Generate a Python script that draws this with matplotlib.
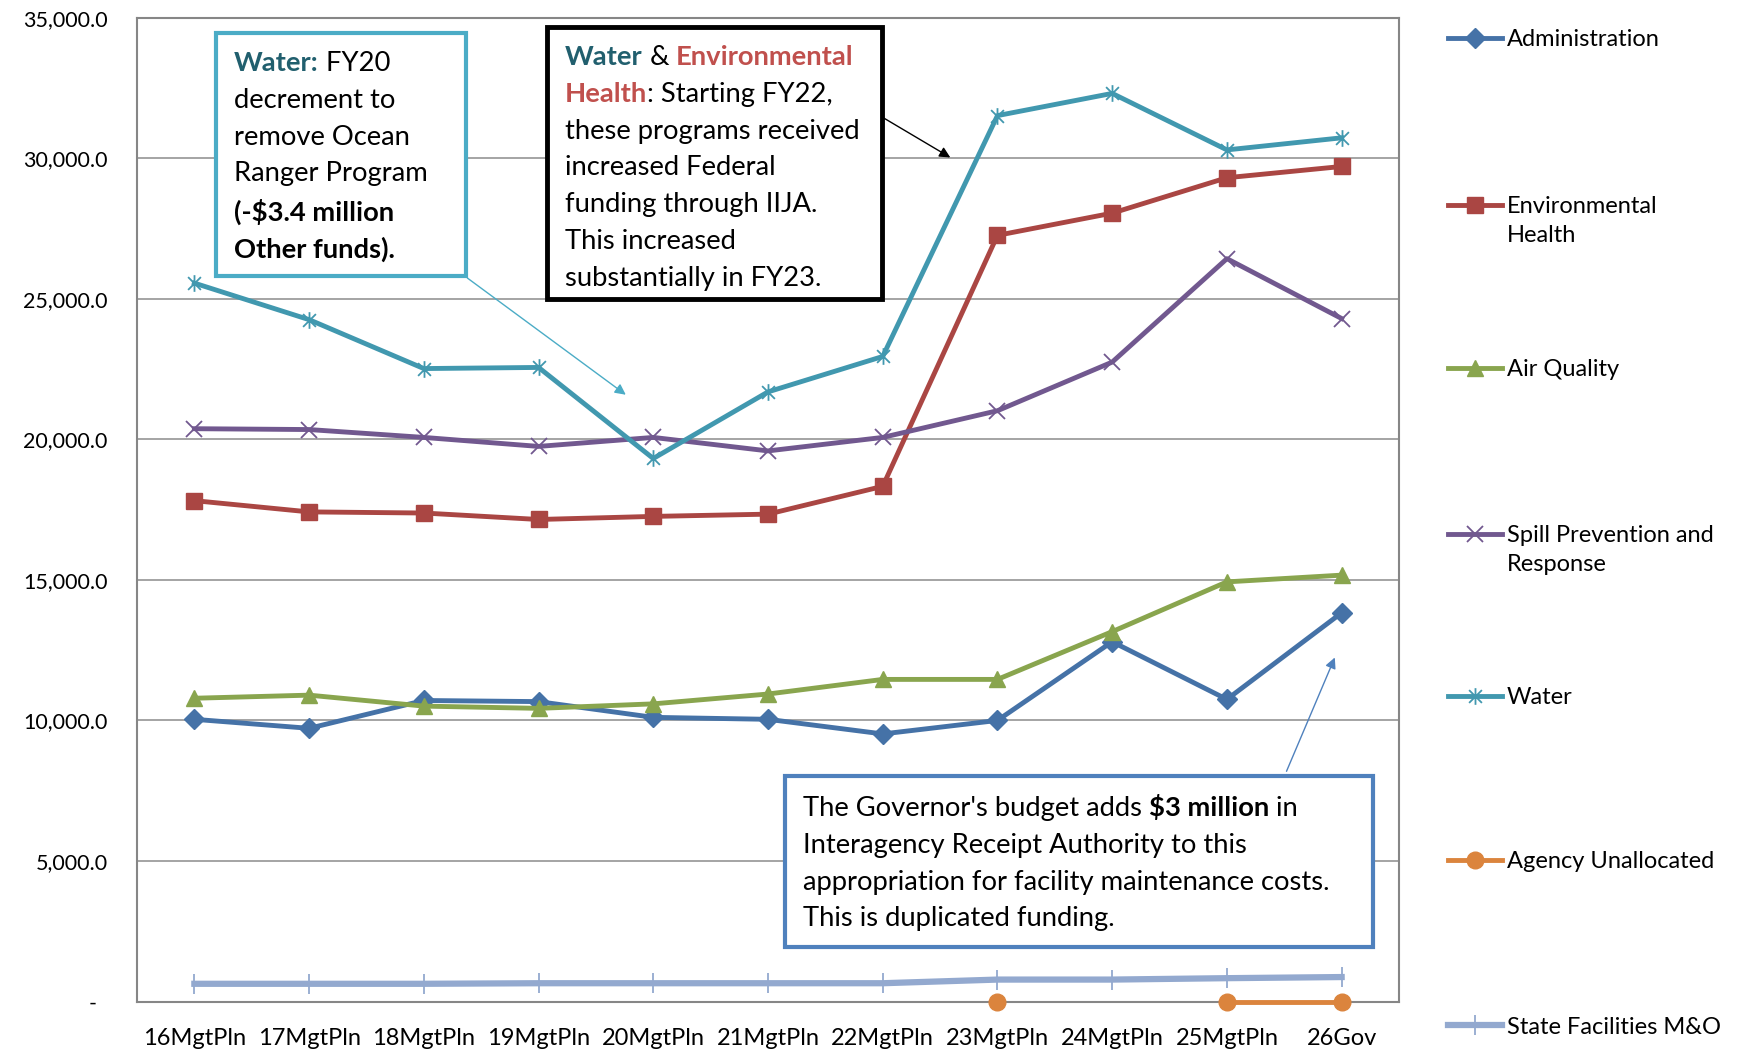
import numpy as np
import matplotlib
matplotlib.use("Agg")
from matplotlib import pyplot as plt
from matplotlib.path import Path
from matplotlib.legend_handler import HandlerLine2D
from matplotlib.offsetbox import TextArea, HPacker, VPacker, AnnotationBbox
from matplotlib.ticker import FuncFormatter, MultipleLocator

FONT = "Lato"
W, H = 1741, 1052

categories = ["16MgtPln", "17MgtPln", "18MgtPln", "19MgtPln", "20MgtPln", "21MgtPln",
              "22MgtPln", "23MgtPln", "24MgtPln", "25MgtPln", "26Gov"]
administration = [10040, 9720, 10710, 10670, 10110, 10040, 9520, 10000, 12800, 10750, 13830]
environmental_health = [17820, 17420, 17380, 17150, 17260, 17340, 18330, 27260, 28050, 29310, 29710]
air_quality = [10790, 10900, 10510, 10430, 10590, 10940, 11460, 11460, 13160, 14930, 15170]
spill_prevention = [20380, 20350, 20070, 19750, 20070, 19590, 20070, 21020, 22750, 26430, 24300]
water = [25560, 24260, 22520, 22560, 19320, 21690, 22950, 31520, 32310, 30300, 30730]
agency_unallocated = [np.nan, np.nan, np.nan, np.nan, np.nan, np.nan, np.nan, 0, np.nan, 0, 0]
state_facilities = [630, 630, 630, 650, 650, 650, 650, 780, 780, 830, 870]

star = Path([(-1, -1), (1, 1), (-1, 1), (1, -1), (0, -1.3), (0, 1.3)],
            [Path.MOVETO, Path.LINETO, Path.MOVETO, Path.LINETO, Path.MOVETO, Path.LINETO])

series = [
    ("Administration", administration, "#4572A7", "D", 10.5, 3.5, 1),
    ("Environmental\nHealth", environmental_health, "#AA4643", "s", 12, 3.5, 2),
    ("Air Quality", air_quality, "#89A54E", "^", 11.5, 3.5, 1),
    ("Spill Prevention and\nResponse", spill_prevention, "#71588F", "x", 12, 3.5, 2),
    ("Water", water, "#4198AF", star, 12, 3.5, 1),
    ("Agency Unallocated", agency_unallocated, "#DB843D", "o", 12, 3.5, 1),
    ("State Facilities M&O", state_facilities, "#93A9CF", "|", 14, 4.5, 1),
]
legend_y = [40, 205, 370, 534, 698, 862, 1027]


class ShiftedHandler(HandlerLine2D):
    def __init__(self, shift, **kw):
        super().__init__(**kw)
        self.shift = shift

    def create_artists(self, *args, **kwargs):
        artists = super().create_artists(*args, **kwargs)
        for a in artists:
            a.set_ydata(np.asarray(a.get_ydata(), dtype=float) + self.shift)
        return artists


fig = plt.figure(figsize=(W / 100, H / 100), dpi=100)
ax = fig.add_axes([137 / W, 1 - 1001.5 / H, (1399 - 137) / W, (1001.5 - 17.8) / H])
x = np.arange(len(categories))

handles = []
for label, vals, color, marker, ms, lw, nlines in series:
    hollow = marker in ("x", "|") or isinstance(marker, Path)
    line, = ax.plot(x, vals, color=color, lw=lw, marker=marker, markersize=ms,
                    markerfacecolor="none" if hollow else color,
                    markeredgecolor=color, markeredgewidth=1.3 if hollow else 1,
                    solid_joinstyle="round", zorder=3, clip_on=False)
    handles.append(line)

ax.set_xlim(-0.5, len(categories) - 0.5)
ax.set_ylim(0, 35000)
ax.yaxis.set_major_locator(MultipleLocator(5000))
ax.yaxis.set_major_formatter(FuncFormatter(lambda v, p: f"{v:,.1f}" if v else "-  "))
ax.set_xticks(x)
ax.set_xticklabels(categories)
ax.grid(axis="y", color="#8C8C8C", lw=1.1)
ax.set_axisbelow(True)
for s in ax.spines.values():
    s.set_color("#868686")
    s.set_linewidth(1.5)
ax.tick_params(axis="x", length=0, pad=19, labelsize=17)
ax.tick_params(axis="y", length=0, pad=21, labelsize=15.5)
for lab in ax.get_xticklabels() + ax.get_yticklabels():
    lab.set_family(FONT)

# legend, one entry per row
LEG_SIZE = 17
for (label, vals, color, marker, ms, lw, nlines), h, ly in zip(series, handles, legend_y):
    half = 16 if nlines == 2 else 0
    leg = fig.legend(handles=[h], labels=[label], loc="center left",
                     bbox_to_anchor=(1448 / W, 1 - (ly + half) / H),
                     frameon=False, handlelength=2.3, handletextpad=0.2, borderpad=0,
                     borderaxespad=0, prop=dict(family=FONT, size=LEG_SIZE),
                     handler_map={h: ShiftedHandler(half * 72 / 100)})
    for t in leg.get_texts():
        t.set_linespacing(1.5)


def text_box(lines, left, top, right, bottom, edge, lw, pad=13, size=19.7, sep=8.5):
    rows = []
    for segs in lines:
        areas = [TextArea(t, textprops=dict(size=size, weight=w, color=c, family=FONT))
                 for t, w, c in segs]
        rows.append(HPacker(children=areas, sep=0, pad=0, align="baseline"))
    padpx = pad * 100 / 72
    box = VPacker(children=rows, sep=sep, pad=pad, align="left", mode="fixed",
                  width=(right - left) - 2 * padpx, height=(bottom - top) - 2 * padpx)
    ab = AnnotationBbox(box, (left, H - top), xycoords="figure pixels",
                        box_alignment=(0, 1), frameon=True, pad=0,
                        bboxprops=dict(edgecolor=edge, linewidth=lw, facecolor="white",
                                       boxstyle="square,pad=0"), zorder=5)
    fig.add_artist(ab)


TEAL = "#215F6E"
RED = "#C0504D"
K = "black"
text_box([[("Water:", "bold", TEAL), (" FY20", "normal", K)],
          [("decrement to", "normal", K)],
          [("remove Ocean", "normal", K)],
          [("Ranger Program", "normal", K)],
          [("(-$3.4 million", "bold", K)],
          [("Other funds).", "bold", K)]],
         216, 33, 466, 276, "#4BACC6", 3)
text_box([[("Water", "bold", TEAL), (" & ", "normal", K), ("Environmental", "bold", RED)],
          [("Health", "bold", RED), (": Starting FY22,", "normal", K)],
          [("these programs received", "normal", K)],
          [("increased Federal", "normal", K)],
          [("funding through IIJA.", "normal", K)],
          [("This increased", "normal", K)],
          [("substantially in FY23.", "normal", K)]],
         547, 27, 882, 299, "black", 3.5)
text_box([[("The Governor's budget adds ", "normal", K), ("$3 million", "bold", K), (" in", "normal", K)],
          [("Interagency Receipt Authority to this", "normal", K)],
          [("appropriation for facility maintenance costs.", "normal", K)],
          [("This is duplicated funding.", "normal", K)]],
         785, 776, 1373, 947, "#4F81BD", 3)

arrow = dict(arrowstyle="-|>", mutation_scale=16, lw=1)
ax.annotate("", xy=(3.78, 21530), xytext=(2.36, 25800),
            arrowprops=dict(color="#4BACC6", **arrow), zorder=4)
ax.annotate("", xy=(6.61, 29980), xytext=(5.99, 31480),
            arrowprops=dict(color="black", **arrow), zorder=4)
ax.annotate("", xy=(9.95, 12330), xytext=(9.51, 8100),
            arrowprops=dict(color="#4F81BD", **arrow), zorder=4)

plt.savefig("out.png", dpi=100)
